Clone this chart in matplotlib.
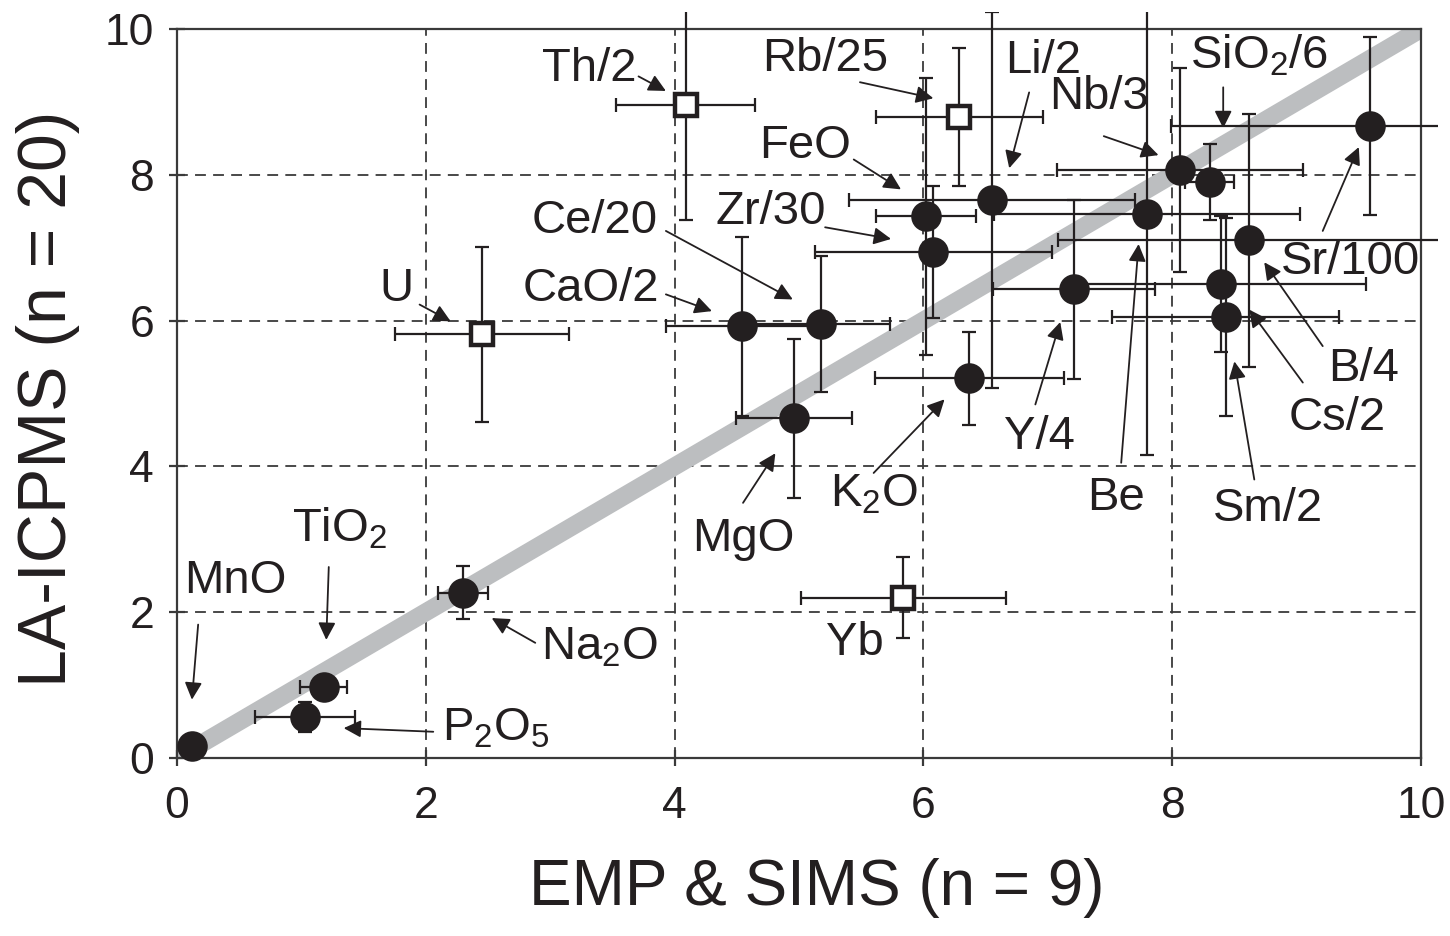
import matplotlib
matplotlib.use("Agg")
import matplotlib.pyplot as plt
from matplotlib.patches import Rectangle

plt.rcParams['font.family'] = ['Liberation Sans', 'DejaVu Sans']
plt.rcParams['mathtext.fontset'] = 'custom'
plt.rcParams['mathtext.rm'] = 'Liberation Sans'
plt.rcParams['mathtext.it'] = 'Liberation Sans:italic'

# ---------------- data ----------------
names = ["MnO", "P$_2$O$_5$", "TiO$_2$", "Na$_2$O", "U", "Th/2", "Rb/25", "Yb",
         "CaO/2", "Ce/20", "MgO", "FeO", "Zr/30", "Li/2", "Be", "Y/4", "K$_2$O",
         "Nb/3", "SiO$_2$/6", "Sr/100", "B/4", "Cs/2", "Sm/2"]
x_emp = [0.12, 1.03, 1.18, 2.30, 2.45, 4.09, 6.29, 5.84,
         4.54, 5.18, 4.96, 6.02, 6.08, 6.55, 7.80, 7.21, 6.37,
         8.06, 8.30, 9.59, 8.62, 8.39, 8.43]
y_la = [0.16, 0.56, 0.98, 2.27, 5.81, 8.96, 8.79, 2.20,
        5.92, 5.95, 4.66, 7.43, 6.94, 7.65, 7.46, 6.43, 5.21,
        8.06, 7.90, 8.67, 7.10, 6.50, 6.05]
x_err = [0.0, 0.40, 0.19, 0.20, 0.70, 0.56, 0.67, 0.82,
         0.61, 0.55, 0.47, 0.40, 0.95, 1.15, 1.23, 0.65, 0.76,
         0.99, 0.20, 1.60, 1.54, 1.17, 0.91]
y_err = [0.0, 0.21, 0.08, 0.36, 1.20, 1.58, 0.95, 0.56,
         1.23, 0.93, 1.09, 1.90, 0.91, 2.58, 3.30, 1.23, 0.64,
         1.40, 0.52, 1.22, 1.73, 0.93, 1.36]
open_marker = [False, False, False, False, True, True, True, True,
               False, False, False, False, False, False, False, False, False,
               False, False, False, False, False, False]

# label text positions and arrow (start -> tip) in data units (None = no arrow)
label_pos = [(0.47, 2.43), (2.56, 0.41), (1.31, 3.15), (3.40, 1.51), (1.76, 6.44),
             (3.31, 9.45), (5.21, 9.59), (5.45, 1.58), (3.33, 6.44), (3.36, 7.36),
             (4.55, 3.01), (5.05, 8.39), (4.77, 7.49), (6.96, 9.56), (7.55, 3.57),
             (6.93, 4.40), (5.60, 3.61), (7.41, 9.07), (8.70, 9.63), (9.43, 6.80),
             (9.54, 5.34), (9.33, 4.67), (8.77, 3.42)]
arrows = [((0.17, 1.83), (0.12, 0.80)), ((2.06, 0.36), (1.34, 0.41)),
          ((1.22, 2.62), (1.20, 1.62)), ((2.88, 1.58), (2.53, 1.92)),
          ((1.95, 6.22), (2.20, 5.99)), ((3.71, 9.35), (3.93, 9.15)),
          ((5.49, 9.27), (6.08, 9.05)), None,
          ((3.93, 6.36), (4.30, 6.13)), ((3.93, 7.23), (4.95, 6.29)),
          ((4.55, 3.50), (4.81, 4.18)), ((5.44, 8.21), (5.82, 7.80)),
          ((5.21, 7.28), (5.74, 7.12)), ((6.85, 9.13), (6.69, 8.09)),
          ((7.59, 4.05), (7.73, 7.05)), ((6.90, 4.85), (7.10, 5.98)),
          ((5.60, 3.91), (6.17, 4.92)), ((7.45, 8.53), (7.89, 8.27)),
          ((8.41, 9.20), (8.41, 8.64)), ((9.21, 7.23), (9.50, 8.38)),
          ((9.21, 5.65), (8.74, 6.80)), ((9.05, 5.15), (8.62, 6.15)),
          ((8.66, 3.82), (8.50, 5.44))]

ticks = [0, 2, 4, 6, 8, 10]
one_to_one = [0, 10]

# ---------------- figure ----------------
W, H = 1450, 936
fig = plt.figure(figsize=(W / 100, H / 100), dpi=100)
ax = fig.add_axes([177 / W, (H - 758) / H, (1421 - 177) / W, (758 - 29) / H])
ax.set_xlim(0, 10)
ax.set_ylim(0, 10)

dark = '#231f20'
for v in ticks[1:-1]:
    ax.axvline(v, color='#3a3a3a', lw=1.3, ls=(0, (6, 4)), zorder=1)
    ax.axhline(v, color='#3a3a3a', lw=1.3, ls=(0, (6, 4)), zorder=1)

ax.plot(one_to_one, one_to_one, color='#bcbec0', lw=13, solid_capstyle='butt',
        zorder=2, clip_on=True)

clip_rect = Rectangle((0, 0), 1438 / W, (H - 12) / H, transform=fig.transFigure,
                      facecolor='none', edgecolor='none')
fig.add_artist(clip_rect)

for xi, yi, xe, ye, op in zip(x_emp, y_la, x_err, y_err, open_marker):
    if xe > 0 or ye > 0:
        cont = ax.errorbar(xi, yi, xerr=xe, yerr=ye, fmt='none', ecolor=dark,
                           elinewidth=1.6, capsize=4.8, capthick=1.6, zorder=3)
        for art in cont.get_children():
            art.set_clip_on(True)
            art.set_clip_path(clip_rect)
    if op:
        ax.plot(xi, yi, marker='s', ms=16, mfc='white', mec=dark, mew=3.2,
                ls='none', zorder=5, clip_on=False)
    else:
        ax.plot(xi, yi, marker='o', ms=22, mfc=dark, mec=dark, mew=0,
                ls='none', zorder=5, clip_on=False)

for name, (tx, ty), arr in zip(names, label_pos, arrows):
    ax.text(tx, ty, name, fontsize=34, ha='center', va='center', color=dark,
            zorder=6)
    if arr is not None:
        ax.annotate('', xy=arr[1], xytext=arr[0],
                    arrowprops=dict(arrowstyle='-|>', color=dark, lw=1.3,
                                    mutation_scale=26, shrinkA=0, shrinkB=0),
                    zorder=6, annotation_clip=False)

ax.set_xticks(ticks)
ax.set_yticks(ticks)
ax.tick_params(axis='both', direction='inout', length=11, width=1.6,
               color='#3a3a3a', labelsize=32, labelcolor=dark)
ax.tick_params(axis='x', pad=15)
ax.tick_params(axis='y', pad=11)
for s in ax.spines.values():
    s.set_color('#3a3a3a')
    s.set_linewidth(1.6)

fig.text(817 / W, (H - 905) / H, 'EMP & SIMS (n = 9)', fontsize=46,
         ha='center', va='baseline', color=dark)
fig.text(66 / W, (H - 399) / H, 'LA-ICPMS (n = 20)', fontsize=49,
         ha='center', va='baseline', rotation=90, rotation_mode='anchor',
         color=dark)

fig.savefig('out.png', dpi=100)
